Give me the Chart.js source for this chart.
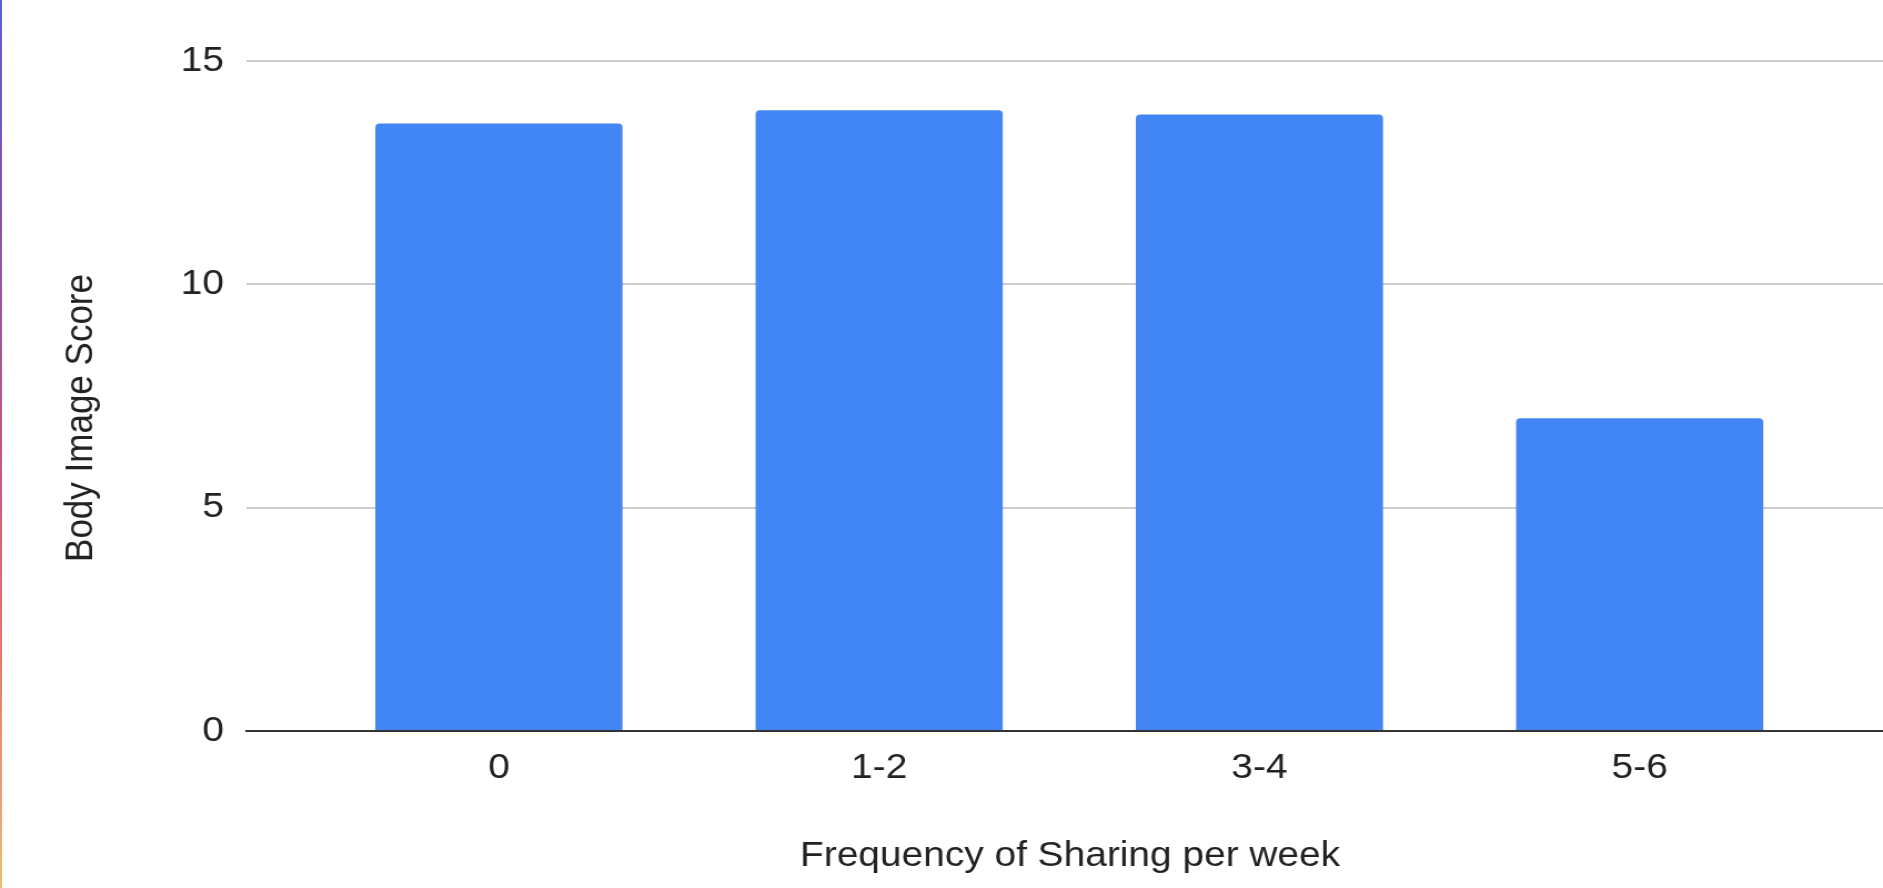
<!DOCTYPE html>
<html>
<head>
<meta charset="utf-8">
<title>Body Image Score by Frequency of Sharing</title>
<script src="https://cdn.jsdelivr.net/npm/chart.js@4/dist/chart.umd.min.js"></script>
<style>
  html, body { margin: 0; padding: 0; background: #fff; overflow: hidden; }
  #wrap { position: relative; width: 1883px; height: 888px; overflow: hidden; }
  #chart { position: absolute; left: 0; top: 0; transform-origin: 0 0; }
  /* thin coloured strip down the left edge */
  #edge {
    position: absolute; left: 0; top: 0; width: 2px; height: 888px;
    background: linear-gradient(to bottom, #5b5fd6 0%, #8a52b8 25%, #c9537f 50%, #e8746a 72%, #f6b86e 100%);
  }
</style>
</head>
<body>
<div id="wrap">
  <canvas id="chart"></canvas>
  <div id="edge"></div>
</div>
<script>
// sharing frequency buckets and mean body image score for each
const categories = ['0', '1-2', '3-4', '5-6'];
const scores     = [13.6, 13.9, 13.8, 7.0];
const yTicks     = [0, 5, 10, 15];

const xTitle = 'Frequency of Sharing per week';
const yTitle = 'Body Image Score';

const FONT = '"Liberation Sans", Arial, sans-serif';
const TEXT = '#222';

// the exported image is stretched sideways, so draw narrow and scale out
const SX = 1.11;
const W = Math.round(1883 / SX);
const H = 888;

const canvas = document.getElementById('chart');
canvas.width = W;
canvas.height = H;
canvas.style.transform = `scaleX(${1883 / W})`;

// axis titles drawn by hand so they sit where Sheets puts them
const axisTitles = {
  id: 'axisTitles',
  afterDraw(chart) {
    const { ctx, chartArea } = chart;
    ctx.save();
    ctx.fillStyle = TEXT;
    ctx.font = '35px ' + FONT;
    ctx.textAlign = 'center';
    ctx.textBaseline = 'alphabetic';
    ctx.fillText(xTitle, (chartArea.left + chartArea.right) / 2 + 5, 866);

    ctx.translate(92 / SX, (chartArea.top + chartArea.bottom) / 2 + 22);
    ctx.rotate(-Math.PI / 2);
    ctx.fillText(yTitle, 0, 0);
    ctx.restore();
  }
};

new Chart(canvas.getContext('2d'), {
  type: 'bar',
  data: {
    datasets: [{
      data: scores.map((v, i) => ({ x: i, y: v })),
      backgroundColor: '#4285F4',
      borderWidth: 0,
      borderRadius: 4,
      borderSkipped: 'start',
      categoryPercentage: 1,
      barPercentage: 0.65
    }]
  },
  options: {
    responsive: false,
    devicePixelRatio: 1,
    animation: false,
    layout: { padding: { top: 61, left: 0, right: 0, bottom: 0 } },
    plugins: {
      legend: { display: false },
      tooltip: { enabled: false },
      title: { display: false }
    },
    scales: {
      x: {
        type: 'linear',
        offset: false,
        min: -0.665,
        max: 3.64,
        afterBuildTicks: (scale) => {
          scale.ticks = categories.map((c, i) => ({ value: i }));
        },
        afterFit: (scale) => { scale.height = 157; },
        grid: { display: false, drawTicks: false },
        border: { display: true, color: '#333', width: 2, z: 1 },
        ticks: {
          autoSkip: false,
          maxRotation: 0,
          padding: 16,
          color: TEXT,
          font: { family: FONT, size: 35 },
          callback: (value) => categories[value]
        }
      },
      y: {
        min: 0,
        max: 15,
        afterBuildTicks: (scale) => {
          scale.ticks = yTicks.map(v => ({ value: v }));
        },
        afterFit: (scale) => { scale.width = 246 / SX; },
        grid: { color: '#cccccc', lineWidth: 2, drawTicks: false },
        border: { display: false },
        ticks: {
          padding: 22 / SX,
          color: TEXT,
          font: { family: FONT, size: 35 }
        }
      }
    }
  },
  plugins: [axisTitles]
});
</script>
</body>
</html>
